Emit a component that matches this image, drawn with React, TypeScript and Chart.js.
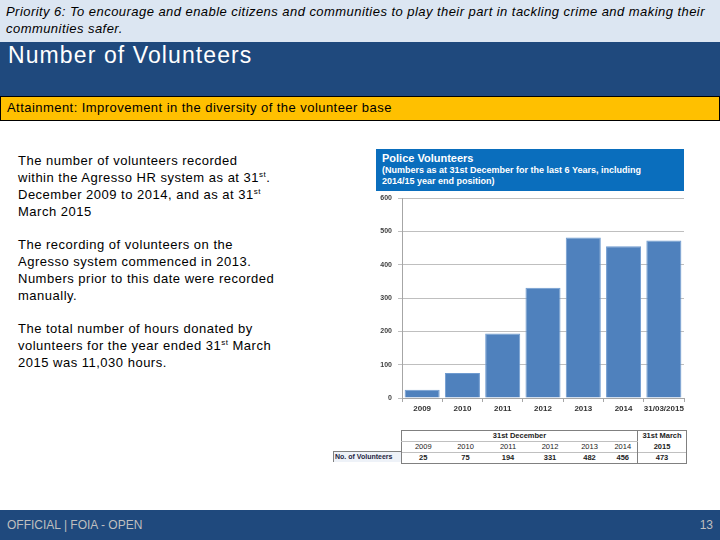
import React, { useEffect, useRef } from "react";
import { Chart, registerables } from "chart.js";

Chart.register(...registerables);

const categories = ["2009", "2010", "2011", "2012", "2013", "2014", "31/03/2015"];
const volunteers = [25, 75, 194, 331, 482, 456, 473];
const tableYears = ["2009", "2010", "2011", "2012", "2013", "2014", "2015"];
const colWidths = [43, 42, 43, 41, 38, 29, 49];

const FONT = "'Liberation Sans', Arial, sans-serif";

function VolunteerChart() {
  const ref = useRef<HTMLCanvasElement | null>(null);
  useEffect(() => {
    if (!ref.current) return;
    const chart = new Chart(ref.current, {
      type: "bar",
      data: {
        labels: categories,
        datasets: [
          {
            data: volunteers,
            backgroundColor: "#4f81bd",
            borderColor: "#6f9bd0",
            borderWidth: 1,
            barPercentage: 1,
            categoryPercentage: 0.87,
          },
        ],
      },
      options: {
        responsive: false,
        animation: false,
        layout: { padding: { top: 5, right: 4, left: 0, bottom: 0 } },
        plugins: { legend: { display: false }, tooltip: { enabled: false }, title: { display: false } },
        scales: {
          x: {
            grid: { display: true, drawOnChartArea: false, drawTicks: true, tickLength: 4, color: "#a6a6a6" },
            border: { color: "#a6a6a6" },
            ticks: { color: "#333333", font: { family: FONT, size: 8, weight: "bold" }, padding: 2, maxRotation: 0, minRotation: 0, autoSkip: false },
            afterFit: (s: any) => { s.height = 18; },
          },
          y: {
            min: 0,
            max: 600,
            ticks: { stepSize: 100, color: "#404040", font: { family: FONT, size: 7, weight: "bold" }, padding: 6 },
            grid: { color: "#bfbfbf", tickLength: 4 },
            border: { color: "#a6a6a6" },
            afterFit: (s: any) => { s.width = 30; },
          },
        },
      },
    });
    return () => chart.destroy();
  }, []);
  return <canvas ref={ref} width={316} height={228} style={{ position: "absolute", left: 372, top: 188 }} />;
}

export default function App() {
  const cell: React.CSSProperties = { textAlign: "center", padding: 0, height: 10, lineHeight: "10px" };
  const sup: React.CSSProperties = { fontSize: 8, lineHeight: 0 };
  return (
    <div style={{ position: "absolute", left: 0, top: 0, width: 720, height: 540, background: "#ffffff", overflow: "hidden", fontFamily: FONT }}>
      <div style={{ position: "absolute", left: 0, top: 0, width: 720, height: 42, background: "#dce6f2" }}>
        <div style={{ position: "absolute", left: 6, top: 3, fontSize: 13, fontStyle: "italic", lineHeight: "17px", color: "#000", letterSpacing: 0.45, whiteSpace: "nowrap" }}>
          Priority 6: To encourage and enable citizens and communities to play their part in tackling crime and making their
          <br />
          communities safer.
        </div>
      </div>
      <div style={{ position: "absolute", left: 0, top: 42, width: 720, height: 54, background: "#1f497d" }}>
        <div style={{ position: "absolute", left: 8, top: 0, fontSize: 23, color: "#fff", lineHeight: "27px", letterSpacing: 1.1 }}>Number of Volunteers</div>
      </div>
      <div style={{ position: "absolute", left: 0, top: 96, width: 718, height: 23, background: "#ffc000", border: "1px solid #000" }}>
        <div style={{ position: "absolute", left: 6, top: 3, fontSize: 13, color: "#000", lineHeight: "16px", letterSpacing: 0.45 }}>
          Attainment: Improvement in the diversity of the volunteer base
        </div>
      </div>
      <div style={{ position: "absolute", left: 18, top: 152, width: 300, fontSize: 13, lineHeight: "17px", color: "#000", letterSpacing: 0.5, whiteSpace: "nowrap" }}>
        <div>
          The number of volunteers recorded
          <br />
          within the Agresso HR system as at 31<sup style={sup}>st</sup>.
          <br />
          December 2009 to 2014, and as at 31<sup style={sup}>st</sup>
          <br />
          March 2015
        </div>
        <div style={{ marginTop: 16 }}>
          The recording of volunteers on the
          <br />
          Agresso system commenced in 2013.
          <br />
          Numbers prior to this date were recorded
          <br />
          manually.
        </div>
        <div style={{ marginTop: 16 }}>
          The total number of hours donated by
          <br />
          volunteers for the year ended 31<sup style={sup}>st</sup> March
          <br />
          2015 was 11,030 hours.
        </div>
      </div>

      <div style={{ position: "absolute", left: 376, top: 149, width: 308, height: 42, background: "#0a6ebd", color: "#fff", fontWeight: "bold" }}>
        <div style={{ position: "absolute", left: 6, top: 3, fontSize: 11, lineHeight: "12px" }}>Police Volunteers</div>
        <div style={{ position: "absolute", left: 6, top: 16, fontSize: 9, lineHeight: "11px", whiteSpace: "nowrap" }}>
          (Numbers as at 31st December for the last 6 Years, including
          <br />
          2014/15 year end position)
        </div>
      </div>
      <VolunteerChart />

      <div style={{ position: "absolute", left: 333, top: 451, width: 66, height: 10, borderTop: "1px solid #808080", borderLeft: "1px solid #808080", background: "#eef2f8", fontSize: 7, fontWeight: "bold", lineHeight: "10px", color: "#1f1f3f", paddingLeft: 1, whiteSpace: "nowrap" }}>
        No. of Volunteers
      </div>
      <table style={{ position: "absolute", left: 401, top: 430, borderCollapse: "collapse", fontSize: 7.5, color: "#222", tableLayout: "fixed", width: 285 }}>
        <colgroup>
          {colWidths.map((w, i) => (
            <col key={i} style={{ width: w }} />
          ))}
        </colgroup>
        <tbody>
          <tr style={{ borderTop: "1px solid #808080" }}>
            <td colSpan={6} style={{ ...cell, fontWeight: "bold", borderLeft: "1px solid #808080", borderBottom: "1px solid #c0c0c0" }}>31st December</td>
            <td style={{ ...cell, fontWeight: "bold", borderLeft: "1px solid #808080", borderRight: "1px solid #808080" }}>31st March</td>
          </tr>
          <tr>
            {tableYears.map((y, i) => (
              <td key={i} style={{ ...cell, fontWeight: i === 6 ? "bold" : "normal", borderLeft: i === 0 || i === 6 ? "1px solid #808080" : undefined, borderRight: i === 6 ? "1px solid #808080" : undefined }}>{y}</td>
            ))}
          </tr>
          <tr style={{ borderTop: "1px solid #c0c0c0", borderBottom: "1px solid #808080" }}>
            {volunteers.map((v, i) => (
              <td key={i} style={{ ...cell, fontWeight: "bold", borderLeft: i === 0 || i === 6 ? "1px solid #808080" : undefined, borderRight: i === 6 ? "1px solid #808080" : undefined }}>{v}</td>
            ))}
          </tr>
        </tbody>
      </table>

      <div style={{ position: "absolute", left: 0, top: 510, width: 720, height: 30, background: "#1f497d" }}>
        <div style={{ position: "absolute", left: 7, top: 8, fontSize: 12, color: "#bfbfbf", lineHeight: "14px" }}>OFFICIAL | FOIA - OPEN</div>
        <div style={{ position: "absolute", right: 7, top: 8, fontSize: 12, color: "#bfbfbf", lineHeight: "14px" }}>13</div>
      </div>
    </div>
  );
}
